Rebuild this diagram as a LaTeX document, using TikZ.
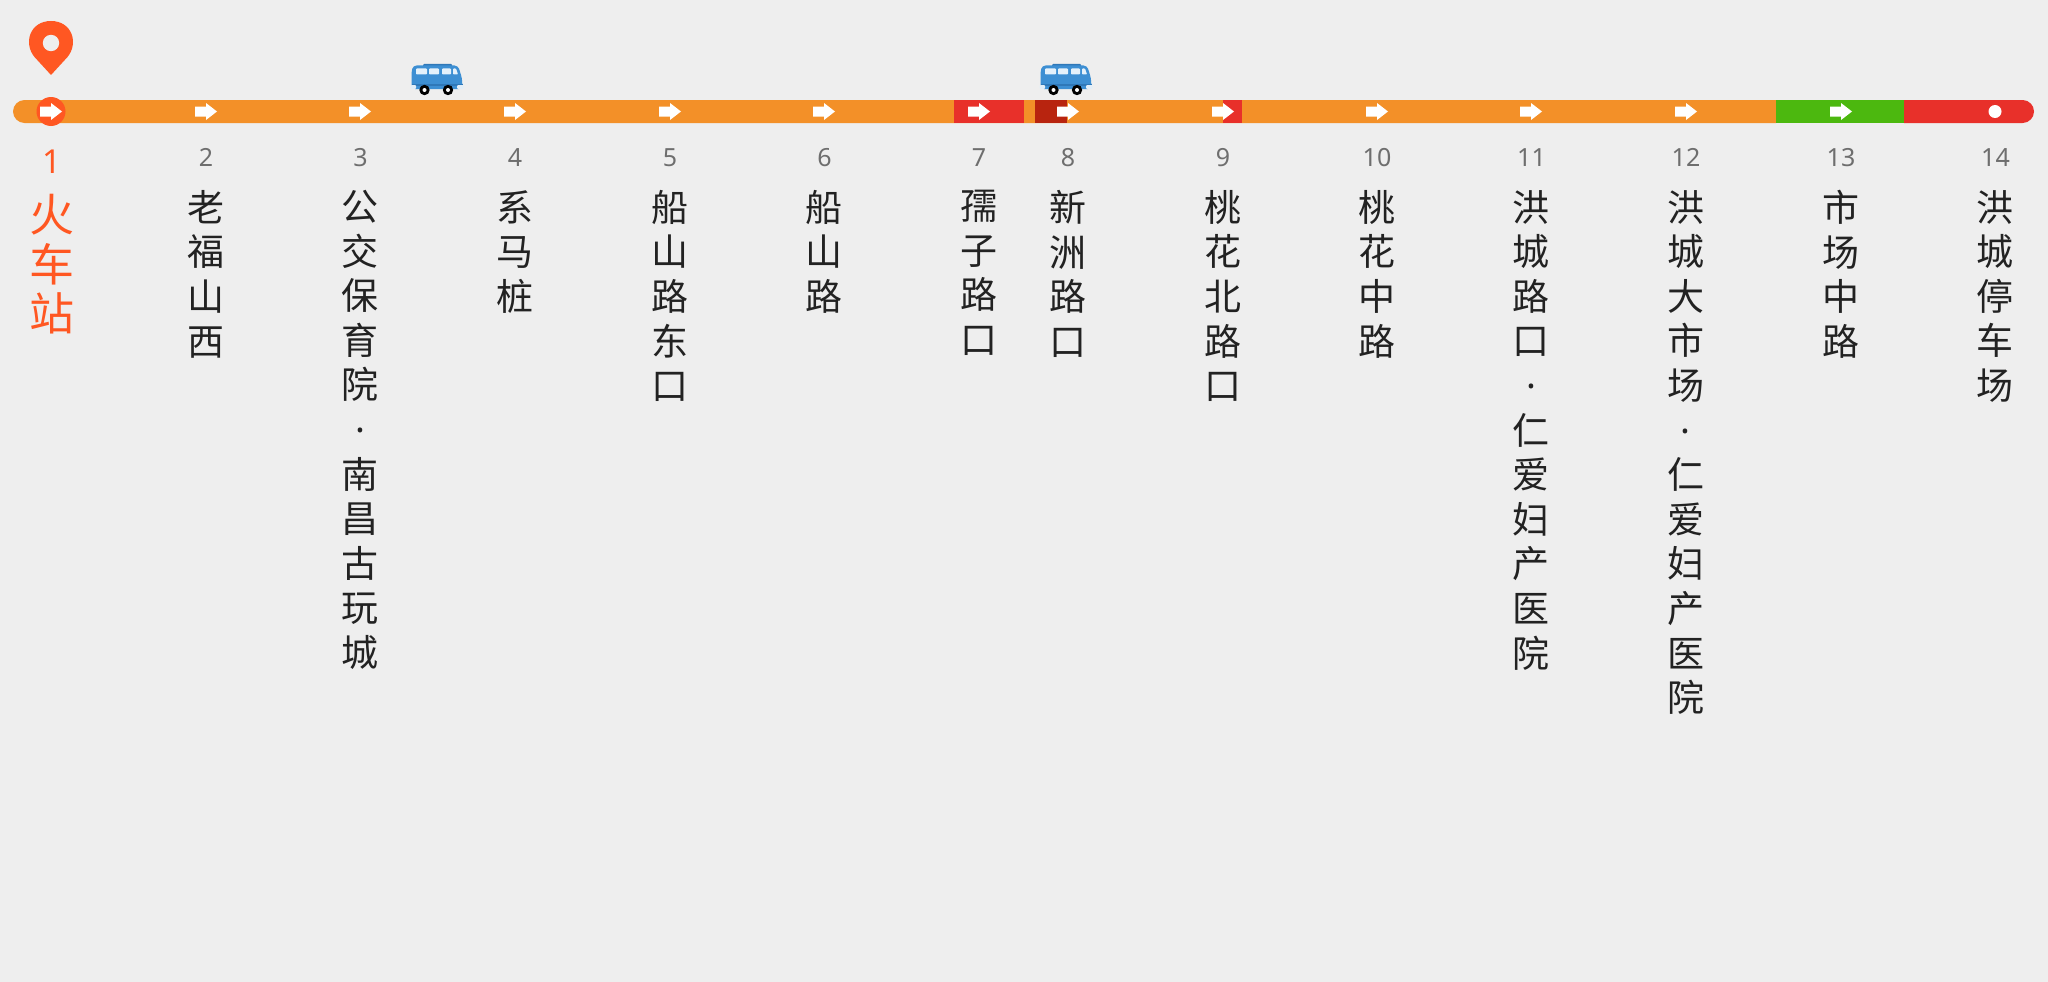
\documentclass[tikz,border=0pt]{standalone}
\usepackage{fontspec}
\setmainfont{Noto Sans}
\newfontfamily\cjk{Noto Sans CJK SC}
\definecolor{bgc}{HTML}{EEEEEE}
\definecolor{barorange}{HTML}{F39028}
\definecolor{barred}{HTML}{E8302A}
\definecolor{bardark}{HTML}{B8240F}
\definecolor{bargreen}{HTML}{4CB80F}
\definecolor{accent}{HTML}{FF5722}
\definecolor{numgray}{HTML}{6E6E6E}
\definecolor{namegray}{HTML}{222222}
\definecolor{busblue}{HTML}{3D8FD3}
\definecolor{busdark}{HTML}{2F78B8}
\definecolor{buswin}{HTML}{E4F1FB}
\newcommand{\mdot}{{\fontspec{Noto Sans}·}}
\tikzset{
  x=1pt,y=-1pt,
  stationnum/.style={font=\fontsize{25}{25}\selectfont,text=numgray,anchor=center,inner sep=0pt},
  stationname/.style={font=\cjk\fontsize{37}{44.6}\selectfont,text=namegray,align=center,anchor=north,inner sep=0pt},
  startname/.style={font=\cjk\fontsize{45}{49.6}\selectfont,text=accent,align=center,anchor=north,inner sep=0pt},
  pics/dirarrow/.style={code={
    \fill[white] (-11,-5) -- (0,-5) -- (0,-8.5) -- (11,0) -- (0,8.5) -- (0,5) -- (-11,5) -- cycle;}},
  pics/minibus/.style={code={
    \fill[busdark,rounded corners=1pt] (12,0) rectangle (41,4);
    \fill[busblue,rounded corners=3.5pt] (2,1.5) -- (47,1.5) -- (51,14) -- (51.5,25) -- (0.5,25) -- (0.5,8) -- cycle;
    \fill[buswin,rounded corners=.8pt] (5,4.5) rectangle (16,10.5);
    \fill[buswin,rounded corners=.8pt] (18,4.5) rectangle (28,10.5);
    \fill[buswin,rounded corners=.8pt] (31,4.5) rectangle (40,10.5);
    \fill[buswin,rounded corners=.8pt] (42,4.5) -- (45,4.5) -- (47,10.5) -- (42,10.5) -- cycle;
    \fill[busdark] (0.5,20) rectangle (51.5,22);
    \fill[white!85!busblue,rounded corners=1pt] (-0.5,21) rectangle (5,25);
    \fill[white!85!busblue,rounded corners=1pt] (46,21) rectangle (52.5,25);
    \foreach \wx in {13.5,37}{
      \fill[black] (\wx,26) circle[radius=5.2];
      \fill[white] (\wx,26) circle[radius=2];}
  }}
}
\begin{document}
\begin{tikzpicture}
\useasboundingbox[fill=bgc] (0,0) rectangle (2048,982);
% route bar
\fill[barorange] (24.5,100) arc[start angle=270,end angle=90,radius=11.5] -- (1776,123) -- (1776,100) -- cycle;
\fill[barred] (954,100) rectangle (1024,123);
\fill[bardark] (1035,100) rectangle (1067,123);
\fill[barred] (1223,100) rectangle (1242,123);
\fill[bargreen] (1776,100) rectangle (1904,123);
\fill[barred] (1904,100) -- (2022.5,100) arc[start angle=-90,end angle=90,radius=11.5] -- (1904,123) -- cycle;
% start marker
\fill[accent] (51,111.5) circle[radius=14.5];
\fill[accent] (51,75) -- (34.5,57) .. controls (23,43) and (30,21) .. (51,21) .. controls (72,21) and (79,43) .. (67.5,57) -- cycle;
\fill[bgc] (51,43) circle[radius=8.2];
% direction arrows
\foreach \ax in {51,206,360,515,670,824,979,1068,1223,1377,1531,1686,1841}
  \pic at (\ax,111.5) {dirarrow};
\fill[white] (1995,111.5) circle[radius=6.5];
% buses
\pic at (411,64) {minibus};
\pic at (1040,64) {minibus};
% stations
\node[stationnum,text=accent,font=\fontsize{33}{33}\selectfont] (n1) at (51.5,162) {1};
\node[startname] (s1) at (51.5,194) {火\\车\\站};
\foreach \sx/\snum/\sname in {
  205.5/2/{老\\福\\山\\西},
  360/3/{公\\交\\保\\育\\院\\\mdot\\南\\昌\\古\\玩\\城},
  514.5/4/{系\\马\\桩},
  669.5/5/{船\\山\\路\\东\\口},
  824/6/{船\\山\\路},
  978.5/7/{孺\\子\\路\\口},
  1067.5/8/{新\\洲\\路\\口},
  1222.5/9/{桃\\花\\北\\路\\口},
  1376.5/10/{桃\\花\\中\\路},
  1531/11/{洪\\城\\路\\口\\\mdot\\仁\\爱\\妇\\产\\医\\院},
  1685.5/12/{洪\\城\\大\\市\\场\\\mdot\\仁\\爱\\妇\\产\\医\\院},
  1840.5/13/{市\\场\\中\\路},
  1995/14/{洪\\城\\停\\车\\场}}{
  \node[stationnum] (n\snum) at (\sx+0.5,157.5) {\snum};
  \node[stationname] (s\snum) at (\sx,190) {\sname};
}
\end{tikzpicture}
\end{document}
